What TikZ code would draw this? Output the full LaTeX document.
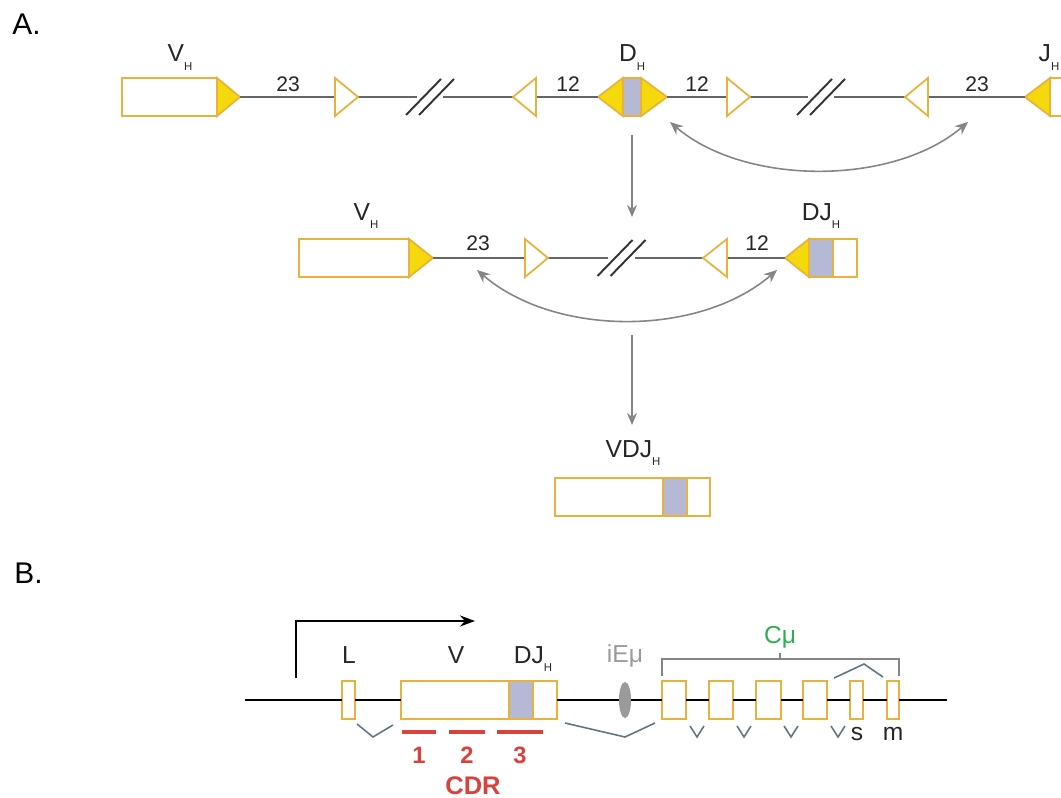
\documentclass[tikz,border=0pt]{standalone}
\usepackage{fontspec}
\setmainfont{Liberation Sans}
\usepackage{xcolor}
\usepackage{tikz}
\usetikzlibrary{arrows.meta,shapes.geometric}
\definecolor{segedge}{HTML}{E8B23C}
\definecolor{rssyellow}{HTML}{F4D90C}
\definecolor{dlav}{HTML}{B5B9D6}
\definecolor{dnagrey}{HTML}{666666}
\definecolor{arrgrey}{HTML}{858585}
\definecolor{splice}{HTML}{5F7582}
\definecolor{cdrred}{HTML}{D8423C}
\definecolor{cmugreen}{HTML}{2DAF4A}
\definecolor{enhgrey}{HTML}{9A9A9A}
\newcommand{\hsub}{\raisebox{-1.7mm}{\fontsize{6.5}{6.5}\selectfont H}}

\begin{document}
\begin{tikzpicture}[
    x=0.2mm, y=-0.2mm,
    seg/.style={draw=segedge, line width=1pt, fill=white, inner sep=0pt, outer sep=0pt, minimum height=7.6mm},
    core/.style={seg, fill=dlav},
    rssfull/.style={draw=segedge, line width=1pt, fill=rssyellow},
    rssopen/.style={draw=segedge, line width=1pt, fill=white},
    dna/.style={draw=dnagrey, line width=1.6pt},
    dnab/.style={draw=black, line width=1.2pt},
    brk/.style={draw=black!80, line width=1.1pt},
    lbl/.style={font=\fontsize{14}{16}\selectfont, text=black!85, anchor=base, inner sep=0pt},
    num/.style={font=\fontsize{12}{14}\selectfont, text=black!85, anchor=base, inner sep=0pt},
    panel/.style={font=\fontsize{17}{19}\selectfont, anchor=base west, inner sep=0pt},
    hop/.style={{Stealth[length=2.6mm,width=2.2mm]}-{Stealth[length=2.6mm,width=2.2mm]}, draw=arrgrey, line width=0.9pt},
    arr/.style={-{Stealth[length=2.4mm,width=2mm]}, draw=arrgrey, line width=0.9pt},
    spl/.style={draw=splice, line width=0.9pt},
    cdr/.style={draw=cdrred, line width=2pt},
]
    \clip (0,0) rectangle (1061,798);

    % Panel letters
    \node[panel] (pa) at (12,35) {A.};
    \node[panel] (pb) at (14,583) {B.};

    % ---- Row 1: germline V, D, J ----
    \coordinate (b1l) at (417,97);
    \coordinate (b1r) at (443,97);
    \coordinate (b2l) at (808,97);
    \coordinate (b2r) at (834,97);

    \node[seg, minimum width=19mm] (vh1) at (169.5,97) {};
    \node[core, minimum width=3.7mm] (dh1) at (632,97) {};
    \node[seg, minimum width=10mm, anchor=west] (jh1) at (1050,97) {};

    \draw[rssfull] (vh1.north east) -- (240,97) coordinate (vh1t) -- (vh1.south east) -- cycle;
    \draw[rssfull] (dh1.north west) -- (598,97) coordinate (dh1l) -- (dh1.south west) -- cycle;
    \draw[rssfull] (dh1.north east) -- (667,97) coordinate (dh1r) -- (dh1.south east) -- cycle;
    \draw[rssfull] (jh1.north west) -- (1025,97) coordinate (jh1t) -- (jh1.south west) -- cycle;

    \draw[dna] (vh1t) -- (b1l);
    \draw[dna] (b1r) -- (dh1l);
    \draw[dna] (dh1r) -- (b2l);
    \draw[dna] (b2r) -- (jh1t);

    % spacers
    \foreach \bx/\tx in {335/358, 536/513, 727/750, 928/905}
        \draw[rssopen] (\bx,78) -- (\tx,97) -- (\bx,116) -- cycle;

    \node[num] (n1) at (288,92) {23};
    \node[num] (n2) at (568,92) {12};
    \node[num] (n3) at (697,92) {12};
    \node[num] (n4) at (977,92) {23};

    \node[lbl] (lvh1) at (180,62) {V\hsub};
    \node[lbl] (ldh1) at (632,62) {D\hsub};
    \node[lbl] (ljh1) at (1049,62) {J\hsub};

    \coordinate (h1a) at (670,122);
    \coordinate (h1b) at (968,122);
    \draw[hop] (h1a) .. controls (745,186) and (893,186) .. (h1b);

    \coordinate (d1a) at (632,135);
    \coordinate (d1b) at (632,217);
    \draw[arr] (d1a) -- (d1b);

    % ---- Row 2: after D-J joining ----
    \coordinate (b3l) at (608,258);
    \coordinate (b3r) at (635,258);

    \node[seg, minimum width=22mm] (vh2) at (354,258) {};
    \node[core, minimum width=4.8mm] (dj2) at (821,258) {};
    \node[seg, minimum width=4.8mm, anchor=west] (jr2) at (dj2.east) {};

    \draw[rssfull] (vh2.north east) -- (433,258) coordinate (vh2t) -- (vh2.south east) -- cycle;
    \draw[rssfull] (dj2.north west) -- (785,258) coordinate (dj2t) -- (dj2.south west) -- cycle;

    \draw[dna] (vh2t) -- (b3l);
    \draw[dna] (b3r) -- (dj2t);

    \foreach \bx/\tx in {525/548, 727/703}
        \draw[rssopen] (\bx,239) -- (\tx,258) -- (\bx,277) -- cycle;

    % breaks
    \foreach \c/\yy in {430/97, 821/97, 621.5/258} {
        \draw[brk] (\c-24,\yy+18) -- (\c+11,\yy-18);
        \draw[brk] (\c-11,\yy+18) -- (\c+24,\yy-18);
    }

    \node[num] (n5) at (478,250) {23};
    \node[num] (n6) at (757,250) {12};

    \node[lbl] (lvh2) at (366,220) {V\hsub};
    \node[lbl] (ldj2) at (821,220) {DJ\hsub};

    \coordinate (h2a) at (477,270);
    \coordinate (h2b) at (777,270);
    \draw[hop] (h2a) .. controls (555,337) and (699,337) .. (h2b);

    \coordinate (d2a) at (632,335);
    \coordinate (d2b) at (632,425);
    \draw[arr] (d2a) -- (d2b);

    % ---- Row 3: VDJ ----
    \node[seg, minimum width=21.6mm] (vdj) at (609,497) {};
    \node[core, minimum width=4.8mm, anchor=west] (vdjd) at (vdj.east) {};
    \node[seg, minimum width=4.6mm, anchor=west] (vdjj) at (vdjd.east) {};
    \node[lbl] (lvdj) at (633,457) {VDJ\hsub};

    % ---- Panel B: rearranged locus ----
    \coordinate (dnaL) at (245,700);
    \coordinate (dnaR) at (947,700);

    \node[seg, minimum width=2.6mm] (lx) at (348.5,700) {};
    \node[seg, minimum width=21.6mm] (vx) at (455,700) {};
    \node[core, minimum width=4.8mm, anchor=west] (djx) at (vx.east) {};
    \node[seg, minimum width=4.8mm, anchor=west] (jx) at (djx.east) {};
    \node[seg, minimum width=4.8mm] (c1) at (674,700) {};
    \node[seg, minimum width=4.8mm] (c2) at (721,700) {};
    \node[seg, minimum width=5mm] (c3) at (768.5,700) {};
    \node[seg, minimum width=4.8mm] (c4) at (815,700) {};
    \node[seg, minimum width=2.6mm] (cs) at (856.5,700) {};
    \node[seg, minimum width=2.4mm] (cm) at (893,700) {};

    \draw[dnab] (dnaL) -- (lx.west) (lx.east) -- (vx.west) (jx.east) -- (c1.west)
        (c1.east) -- (c2.west) (c2.east) -- (c3.west) (c3.east) -- (c4.west)
        (c4.east) -- (cs.west) (cs.east) -- (cm.west) (cm.east) -- (dnaR);

    \node[draw=none, fill=enhgrey, ellipse, minimum width=2.4mm, minimum height=7.2mm, inner sep=0pt] (iemu) at (625,700) {};

    % promoter
    \coordinate (pr0) at (296,678);
    \coordinate (pr1) at (296,621);
    \coordinate (pr2) at (475,621);
    \draw[-{Stealth[length=3mm,width=2.2mm]}, line width=1.1pt] (pr0) -- (pr1) -- (pr2);

    \node[lbl] (ll) at (349,663) {L};
    \node[lbl] (lv) at (456,663) {V};
    \node[lbl] (ldj) at (533,663) {DJ\hsub};
    \node[lbl, text=enhgrey] (lie) at (625,662) {iEμ};
    \node[lbl, text=cmugreen] (lcm) at (780,643) {Cμ};
    \node[lbl] (lsx) at (857,740) {s};
    \node[lbl] (lmx) at (893,740) {m};

    % C region bracket
    \draw[draw=arrgrey, line width=1pt] (662,676) -- (662,659) -- (899,659) -- (899,676);
    \draw[draw=arrgrey, line width=1pt] (780,659) -- (780,653);
    \draw[spl] (834,678) -- (864,664) -- (883,677);

    % splicing
    \draw[spl] (357,724) -- (373,737) -- (393,725);
    \draw[spl] (565,723) -- (625,737) -- (655,723);
    \foreach \vx in {697, 744, 791, 838}
        \draw[spl] (\vx-7,726) -- (\vx,737) -- (\vx+7,726);

    % CDRs
    \draw[cdr] (402,732) -- (436,732);
    \draw[cdr] (449,732) -- (485,732);
    \draw[cdr] (497,732) -- (543,732);
    \node[lbl, text=cdrred, font=\fontsize{13.5}{15}\bfseries] (k1) at (419,763) {1};
    \node[lbl, text=cdrred, font=\fontsize{13.5}{15}\bfseries] (k2) at (467,763) {2};
    \node[lbl, text=cdrred, font=\fontsize{13.5}{15}\bfseries] (k3) at (520,763) {3};
    \node[lbl, text=cdrred, font=\fontsize{14.5}{16}\bfseries] (kcdr) at (473,794) {CDR};
\end{tikzpicture}
\end{document}
